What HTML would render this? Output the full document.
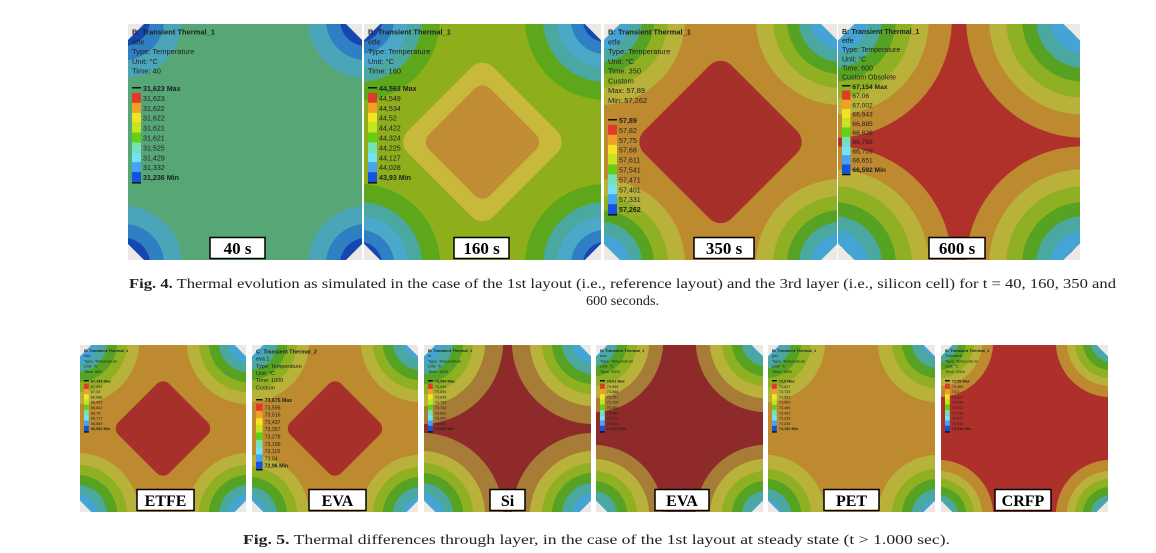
<!DOCTYPE html>
<html><head><meta charset="utf-8"><style>
html,body{margin:0;padding:0;background:#fff;width:1156px;height:553px;overflow:hidden}
svg{display:block}
</style></head><body>
<svg id="fig" width="1156" height="553" xmlns="http://www.w3.org/2000/svg"></svg>
<script>
const NS='http://www.w3.org/2000/svg';
const svg=document.getElementById('fig');
const legendColors=['#e23a2a','#f0a024','#f2e424','#c4e424','#64d014','#74e2b4','#74e2f2','#44a4f0','#1452e0'];
const panels=[
 {name:'panel-40s',x:128,y:24,w:234,h:236,bg:'#56a676',rings:['#4aa5b8','#2f7fc2','#1646b2'],radii:[58,40,26],center:null,label:'40 s',lx:82,lw:55,
  head:['B: Transient Thermal_1','etfe','Type: Temperature','Unit: °C','Time: 40'],leg:['31,623 Max','31,623','31,622','31,622','31,621','31,621','31,525','31,429','31,332','31,236 Min'],fs:7.5,ly:64},
 {name:'panel-160s',x:364,y:24,w:237,h:236,bg:'#8fae1c',rings:['#5ca81a','#4aa8a0','#4aa8c8','#2e7fc4','#1646b2'],radii:[80,62,48,34,22],center:[['#c8b83c',84],['#c08c34',60]],label:'160 s',lx:90,lw:55,
  head:['B: Transient Thermal_1','etfe','Type: Temperature','Unit: °C','Time: 160'],leg:['44,563 Max','44,549','44,534','44,52','44,422','44,324','44,225','44,127','44,028','43,93 Min'],fs:7.5,ly:64},
 {name:'panel-350s',x:604,y:24,w:233,h:236,bg:'#bd8a30',rings:['#b8b23a','#8fb022','#56a222','#4aa8a0','#44a4d4','#1f52c2'],radii:[85,68,54,42,30,17],center:[['#a8302a',86]],label:'350 s',lx:90,lw:60,
  head:['B: Transient Thermal_1','etfe','Type: Temperature','Unit: °C','Time: 350','Custom','Max: 57,89','Min: 57,262'],leg:['57,89','57,82','57,75','57,68','57,611','57,541','57,471','57,401','57,331','57,262'],fs:7.5,ly:96},
 {name:'panel-600s',x:838,y:24,w:242,h:236,bg:'#b0302a',rings:['#bd8a30','#b8b23a','#8fb022','#56a222','#4aa8a0','#44a4d4','#1f52c2'],radii:[118,95,78,62,48,34,18],center:null,label:'600 s',lx:91,lw:56,
  head:['B: Transient Thermal_1','etfe','Type: Temperature','Unit: °C','Time: 600','Custom Obsolete'],leg:['67,154 Max','67,06','67,002','66,943','66,885','66,826','66,768','66,709','66,651','66,592 Min'],fs:7,ly:62},
 {name:'panel-etfe',x:80,y:345,w:166,h:167,bg:'#bd8a30',rings:['#b8b23a','#8fb022','#56a222','#4aa8a0','#44a4d4','#1f52c2'],radii:[62,50,40,30,21,12],center:[['#a8302a',50]],label:'ETFE',lx:57,lw:57,
  head:['B: Transient Thermal_1','etfe','Type: Temperature','Unit: °C','Time: 600'],leg:['67,154 Max','67,092','67,03','66,968','66,905','66,842','66,78','66,717','66,655','66,592 Min'],fs:4,ly:36},
 {name:'panel-eva1',x:252,y:345,w:166,h:167,bg:'#bd8a30',rings:['#b8b23a','#8fb022','#56a222','#4aa8a0','#44a4d4'],radii:[60,48,38,28,18],center:[['#a8302a',50]],label:'EVA',lx:57,lw:57,
  head:['C: Transient Thermal_2','eva 1','Type: Temperature','Unit: °C','Time: 1000','Custom'],leg:['73,675 Max','73,596','73,516','73,437','73,357','73,278','73,199','73,119','73,04','72,96 Min'],fs:5.5,ly:55},
 {name:'panel-si',x:424,y:345,w:167,h:167,bg:'#8e2a2a',rings:['#a67c36','#b8b23a','#8fb022','#56a222','#4aa8a0','#44a4d4','#1f52c2'],radii:[82,64,52,42,32,22,12],center:null,label:'Si',lx:66,lw:35,
  head:['B: Transient Thermal_1','si','Type: Temperature','Unit: °C','Time: 1000'],leg:['73,999 Max','73,949','73,896','73,845','73,793','73,742','73,691','73,659','73,587','73,536 Min'],fs:4,ly:36},
 {name:'panel-eva2',x:596,y:345,w:167,h:167,bg:'#8e2a2a',rings:['#a67c36','#b8b23a','#8fb022','#56a222','#4aa8a0','#44a4d4'],radii:[70,56,44,34,24,14],center:null,label:'EVA',lx:59,lw:54,
  head:['B: Transient Thermal_1','eva','Type: Temperature','Unit: °C','Time: 1000'],leg:['74,01 Max','73,959','73,868','73,797','73,726','73,654','73,584','73,513','73,442','73,371 Min'],fs:4,ly:36},
 {name:'panel-pet',x:768,y:345,w:167,h:167,bg:'#bd8a30',rings:['#b8b23a','#8fb022','#56a222','#4aa8a0','#44a4d4'],radii:[60,46,36,26,16],center:null,label:'PET',lx:56,lw:55,
  head:['B: Transient Thermal_1','pet','Type: Temperature','Unit: °C','Time: 1000'],leg:['73,9 Max','73,817','73,734','73,651','73,569','73,486','73,401','73,318','73,235','73,152 Min'],fs:4,ly:36},
 {name:'panel-crfp',x:941,y:345,w:167,h:167,bg:'#ad302a',rings:['#bd8a30','#b8b23a','#8fb022','#56a222','#4aa8a0','#44a4d4','#1f52c2'],radii:[55,44,36,28,20,13,7],center:null,label:'CRFP',lx:54,lw:56,
  head:['B: Transient Thermal_1','Transient','Type: Temperature','Unit: °C','Time: 1000'],leg:['73,55 Max','73,469','73,3','73,127','73,036','72,917','72,796','72,677','72,636','72,519 Min'],fs:4,ly:36}
];
function mk(tag,attrs,parent){const e=document.createElementNS(NS,tag);for(const k in attrs)e.setAttribute(k,attrs[k]);(parent||svg).appendChild(e);return e;}
const defs=mk('defs',{});
panels.forEach((p,i)=>{
  const g=mk('g',{});
  
  
  const cp=mk('clipPath',{id:'c'+i},defs);
  mk('rect',{x:p.x,y:p.y,width:p.w,height:p.h},cp);
  const inner=mk('g',{'clip-path':'url(#c'+i+')'},g);
  mk('rect',{x:p.x,y:p.y,width:p.w,height:p.h,fill:p.bg},inner);
  const s=p.w/234;
  const corners=[[p.x-4*s,p.y-4*s],[p.x+p.w+4*s,p.y-4*s],[p.x-4*s,p.y+p.h+4*s],[p.x+p.w+4*s,p.y+p.h+4*s]];
  corners.forEach(c=>{p.rings.forEach((col,j)=>{mk('circle',{cx:c[0],cy:c[1],r:p.radii[j],fill:col},inner);});});
  const cx=p.x+p.w/2,cy=p.y+p.h/2;
  if(p.center){p.center.forEach(([col,d])=>{
    mk('rect',{x:cx-d*0.72,y:cy-d*0.72,width:d*1.44,height:d*1.44,rx:d*0.18,fill:col,transform:`rotate(45 ${cx} ${cy})`},inner);});}
  const k=16*s;
  [[p.x,p.y,p.x+k,p.y,p.x,p.y+k],[p.x+p.w,p.y,p.x+p.w-k,p.y,p.x+p.w,p.y+k],[p.x,p.y+p.h,p.x+k,p.y+p.h,p.x,p.y+p.h-k],[p.x+p.w,p.y+p.h,p.x+p.w-k,p.y+p.h,p.x+p.w,p.y+p.h-k]].forEach(t=>{
    mk('polygon',{points:`${t[0]},${t[1]} ${t[2]},${t[3]} ${t[4]},${t[5]}`,fill:'#ece9e4'},inner);});
  const lh=p.fs*1.3;
  p.head.forEach((t,j)=>{const tx=mk('text',{x:p.x+4,y:p.y+p.fs+3+j*lh,'font-family':'Liberation Sans, sans-serif','font-size':p.fs,fill:'#222','font-weight':j==0?'bold':'normal'},inner);tx.textContent=t;});
  const lg=mk('g',{},inner);
  
  
  const bh=p.fs*1.32, ly=p.y+p.ly, bw=p.fs*1.2;
  mk('rect',{x:p.x+4,y:ly-1,width:bw,height:1.5,fill:'#111'},lg);
  legendColors.forEach((c,j)=>{mk('rect',{x:p.x+4,y:ly+j*bh+bh*0.5,width:bw,height:bh,fill:c},lg);});
  mk('rect',{x:p.x+4,y:ly+9.5*bh,width:bw,height:1.5,fill:'#111'},lg);
  p.leg.forEach((t,j)=>{const tx=mk('text',{x:p.x+6+bw,y:ly+j*bh+p.fs*0.4,'font-family':'Liberation Sans, sans-serif','font-size':p.fs*0.95,fill:'#222','font-weight':(j==0||j==9)?'bold':'normal'},lg);tx.textContent=t;});
  const lbH=21;
  const lb=mk('g',{},g);
  
  
  mk('rect',{x:p.x+p.lx,y:p.y+p.h-lbH-1.5,width:p.lw,height:lbH,fill:'#fff',stroke:'#000','stroke-width':1.5},lb);
  const lt=mk('text',{x:p.x+p.lx+p.lw/2,y:p.y+p.h-6,'text-anchor':'middle','font-family':'Liberation Serif, serif','font-weight':'bold','font-size':p.w>200?17:16,fill:'#000'},lb);
  lt.textContent=p.label;
});
function cap(x,y,bold,rest,len,name){
  const t=mk('text',{x:x,y:y,'font-family':'Liberation Serif, serif','font-size':14,fill:'#222',textLength:len,lengthAdjust:'spacingAndGlyphs'});
  
  
  if(bold){const b=mk('tspan',{'font-weight':'bold'},t);b.textContent=bold;}
  const r=mk('tspan',{},t);r.textContent=rest;
}
cap(129,288,'Fig. 4.',' Thermal evolution as simulated in the case of the 1st layout (i.e., reference layout) and the 3rd layer (i.e., silicon cell) for t = 40, 160, 350 and',987,'fig4-caption-line1');
cap(586,305,'','600 seconds.',73,'fig4-caption-line2');
cap(243,544,'Fig. 5.',' Thermal differences through layer, in the case of the 1st layout at steady state (t > 1.000 sec).',707,'fig5-caption');
</script>
</body></html>
